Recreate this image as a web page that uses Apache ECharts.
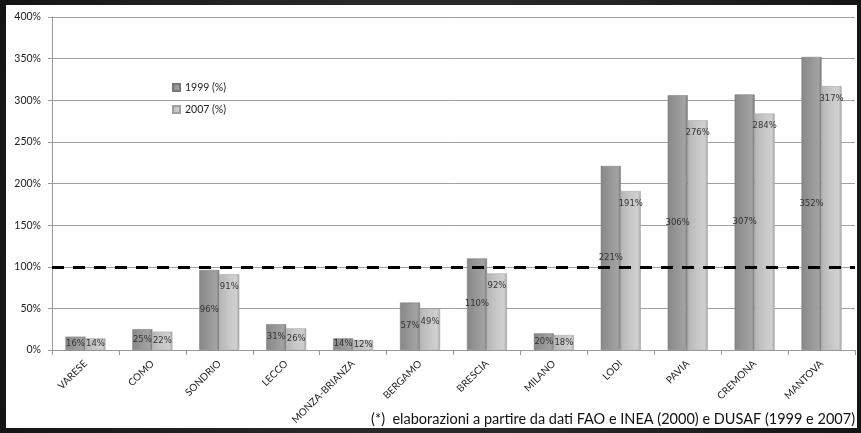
<!DOCTYPE html>
<html>
<head>
<meta charset="utf-8">
<script src="https://cdn.jsdelivr.net/npm/echarts@6/dist/echarts.min.js"></script>
<style>
html,body{margin:0;padding:0;width:861px;height:433px;overflow:hidden;background:#232323;}
#wrap{position:absolute;left:0;top:0;width:861px;height:433px;background:radial-gradient(circle at 50% 50%,#3a3a3a,#141414);}
#chart{position:absolute;left:6px;top:5px;width:851px;height:423px;background:#fff;}
</style>
</head>
<body>
<div id="wrap"></div>
<div id="chart"></div>
<script>
const categories = ['VARESE','COMO','SONDRIO','LECCO','MONZA-BRIANZA','BERGAMO','BRESCIA','MILANO','LODI','PAVIA','CREMONA','MANTOVA'];
const values1999 = [16,25,96,31,14,57,110,20,221,306,307,352];
const values2007 = [14,22,91,26,12,49,92,18,191,276,284,317];
const thresholdValue = 100;
const footnote = '(*)  elaborazioni a partire da dati FAO e INEA (2000) e DUSAF (1999 e 2007)';

const chart = echarts.init(document.getElementById('chart'));
const grad1999 = new echarts.graphic.LinearGradient(0,0,1,0,[
  {offset:0,color:'#878787'},{offset:0.5,color:'#989898'},{offset:0.85,color:'#a3a3a3'},{offset:1,color:'#7a7a7a'}]);
const grad2007 = new echarts.graphic.LinearGradient(0,0,1,0,[
  {offset:0,color:'#b6b6b6'},{offset:0.5,color:'#c8c8c8'},{offset:0.85,color:'#d0d0d0'},{offset:1,color:'#a6a6a6'}]);
const labelBase = {show:true, fontSize:8.5, color:'#333', fontFamily:'DejaVu Sans', formatter: p => p.value + '%'};

chart.setOption({
  animation:false,
  backgroundColor:'#fff',
  textStyle:{fontFamily:'Lato'},
  grid:{left:46, right:2, top:12, bottom:78},
  legend:{
    orient:'vertical', left:161, top:72, itemGap:11,
    itemWidth:7, itemHeight:7, icon:'rect',
    textStyle:{fontSize:10.5, color:'#222', fontFamily:'Lato'},
    data:['1999 (%)','2007 (%)']
  },
  xAxis:{
    type:'category', data:categories,
    axisLine:{lineStyle:{color:'#999'}},
    axisTick:{show:true, alignWithLabel:false, length:5, lineStyle:{color:'#999'}},
    axisLabel:{rotate:45, fontSize:10, color:'#222', margin:12, interval:0, fontFamily:'Lato'}
  },
  yAxis:{
    type:'value', min:0, max:400, interval:50,
    axisLine:{show:true, lineStyle:{color:'#999'}},
    axisTick:{show:true, length:4, lineStyle:{color:'#999'}},
    axisLabel:{fontSize:10.5, color:'#222', margin:11, fontFamily:'Lato', formatter: v => v + '%'},
    splitLine:{lineStyle:{color:'#a0a0a0', width:1}}
  },
  series:[
    {
      name:'1999 (%)', type:'bar', barWidth:20, barGap:'0%',
      itemStyle:{color:grad1999, borderColor:'#777', borderWidth:0.5},
      label:Object.assign({position:'inside'}, labelBase),
      data:values1999
    },
    {
      name:'2007 (%)', type:'bar', barWidth:20,
      itemStyle:{color:grad2007, borderColor:'#a0a0a0', borderWidth:0.5},
      label:Object.assign({position:'insideTop', distance:8}, labelBase),
      data:values2007.map(v => v < 40 ? {value:v, label:{position:'inside'}} : v),
      markLine:{
        silent:true, symbol:'none', z:10,
        label:{show:false},
        lineStyle:{color:'#000', width:3, type:[12,9]},
        data:[{yAxis:thresholdValue}]
      }
    }
  ],
  graphic:[{
    type:'text', right:2, top:407,
    style:{text:footnote, fontSize:14.5, fill:'#111', fontFamily:'Lato'}
  }]
});
</script>
</body>
</html>
